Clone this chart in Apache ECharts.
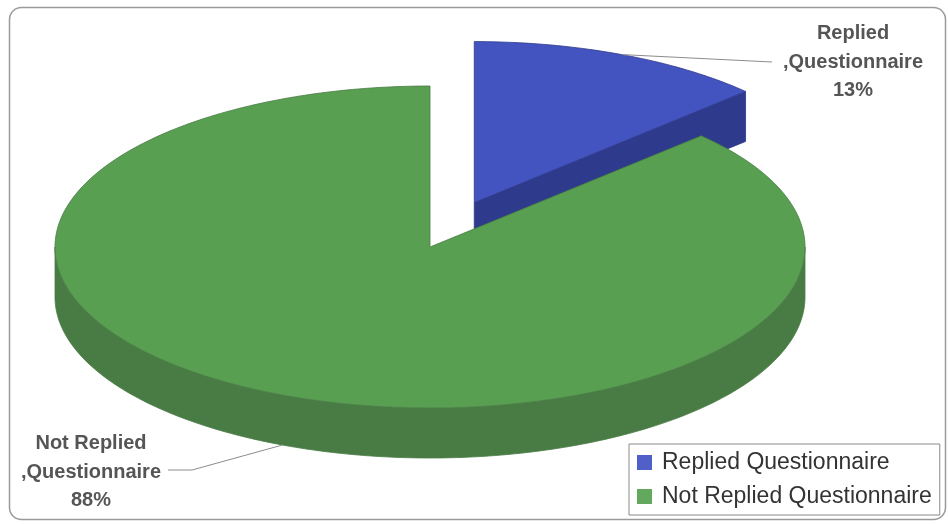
<!DOCTYPE html>
<html><head><meta charset="utf-8">
<script src="https://cdn.jsdelivr.net/npm/echarts@6/dist/echarts.min.js"></script>
<style>html,body{margin:0;padding:0;background:#fff}#c{width:948px;height:524px}</style>
</head><body><div id="c"></div>
<script>
// ---- data ----
const categories = ['Replied Questionnaire', 'Not Replied Questionnaire'];
const shares = [13, 88];               // percentages as printed on the chart
const labelFirst = ['Replied', 'Not Replied'];
const labelSecond = [',Questionnaire', ',Questionnaire'];

// ---- styles / layout ----
const topColors = ['#4354C1', '#589F52'];
const sideColors = ['#2E3A8C', '#497B44'];
const legendColors = ['#5060C8', '#63A95D'];
const explode = [0.3, 0];
const CX = 430, CY = 247, RX = 375, RY = 161, DEPTH = 50;
const labelPos = [[853, 62], [91, 472]];
const leaderEnd = [[[772, 62]], [[192, 470], [168, 470]]];

const total = shares.reduce((a, b) => a + b, 0);

function renderItem(params, api) {
  const idx = params.seriesIndex;
  const value = api.value(0);
  let start = 0;
  for (let i = 0; i < idx; i++) start += shares[i];
  const a0 = start / total * 360, a1 = (start + value) / total * 360;
  const mid = (a0 + a1) / 2;
  const r = d => d * Math.PI / 180;
  const cx = CX + explode[idx] * RX * Math.sin(r(mid));
  const cy = CY - explode[idx] * RY * Math.cos(r(mid));
  const rim = (a, d) => [cx + RX * Math.sin(r(a)), cy - RY * Math.cos(r(a)) + (d || 0)];
  const arc = (s, e, d) => {
    const pts = []; const n = Math.max(2, Math.ceil(Math.abs(e - s)));
    for (let k = 0; k <= n; k++) pts.push(rim(s + (e - s) * k / n, d));
    return pts;
  };
  const children = [];
  // outer wall (front half only)
  [[90, 270], [450, 630]].forEach(([lo, hi]) => {
    const s = Math.max(a0, lo), e = Math.min(a1, hi);
    if (e > s) {
      const pts = arc(s, e, 0).concat(arc(e, s, DEPTH));
      children.push({ type: 'polygon', shape: { points: pts },
        style: { fill: sideColors[idx], stroke: sideColors[idx], lineWidth: 0.8 } });
    }
  });
  // radial cut faces
  const face = a => ({ type: 'polygon', shape: { points: [[cx, cy], rim(a, 0), rim(a, DEPTH), [cx, cy + DEPTH]] },
    style: { fill: sideColors[idx], stroke: sideColors[idx], lineWidth: 0.8 } });
  if (Math.sin(r(a1)) > 0.001) children.push(face(a1));
  if (Math.sin(r(a0)) < -0.001) children.push(face(a0));
  // top face
  children.push({ type: 'polygon', shape: { points: [[cx, cy]].concat(arc(a0, a1, 0)) },
    style: { fill: topColors[idx], stroke: sideColors[idx], lineWidth: 0.8 } });
  // leader line
  const m = Math.cos(r(mid)) < 0 ? rim(mid, DEPTH) : rim(mid, 0);
  children.push({ type: 'polyline', shape: { points: [m].concat(leaderEnd[idx]) },
    style: { stroke: '#8c8c8c', lineWidth: 1, fill: null } });
  // label
  children.push({ type: 'text', x: labelPos[idx][0], y: labelPos[idx][1],
    style: { text: labelFirst[idx] + '\n' + labelSecond[idx] + '\n' + value + '%',
      fill: '#555555', font: 'bold 20px "Liberation Sans", Arial, sans-serif',
      align: 'center', verticalAlign: 'middle', lineHeight: 28.5 } });
  return { type: 'group', children };
}

const chart = echarts.init(document.getElementById('c'));
chart.setOption({
  animation: false,
  backgroundColor: '#fff',
  graphic: [{ type: 'rect', z: -10, shape: { x: 9.5, y: 7.5, width: 936, height: 512, r: 12 },
    style: { fill: '#fff', stroke: '#9a9a9a', lineWidth: 1.5 } }],
  legend: {
    data: categories, orient: 'vertical', left: 629, top: 444,
    itemWidth: 15, itemHeight: 15, itemGap: 11, padding: [7, 8, 7, 8],
    borderColor: '#8a8a8a', borderWidth: 1, icon: 'rect', selectedMode: false,
    textStyle: { fontSize: 23, color: '#333', fontFamily: '"Liberation Sans", Arial, sans-serif', padding: [0, 0, 0, 5] }
  },
  series: categories.map((name, i) => ({
    type: 'custom', name, coordinateSystem: 'none', renderItem,
    itemStyle: { color: legendColors[i] }, data: [[shares[i]]]
  }))
});
</script></body></html>
